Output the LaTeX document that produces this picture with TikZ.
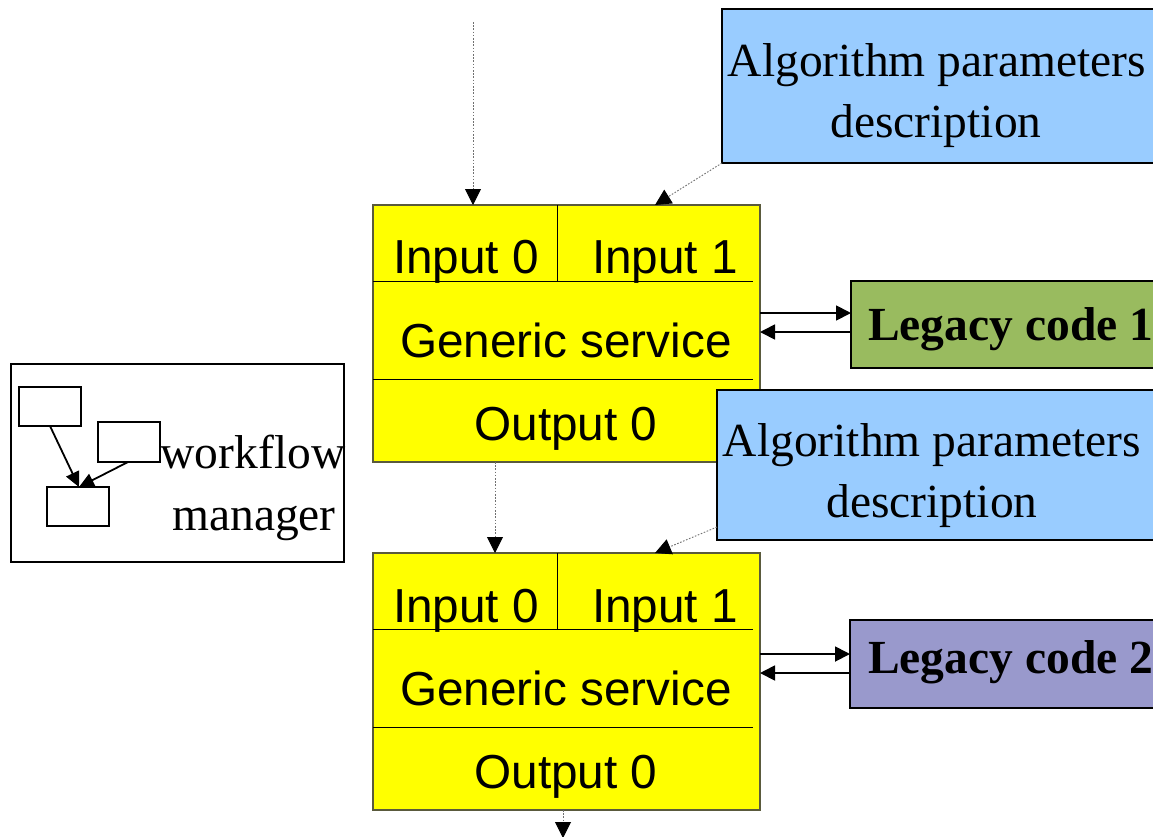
\documentclass[tikz,border=0pt]{standalone}
\usepackage{fontspec}
\setmainfont{Liberation Serif}
\newfontfamily\arialfont{Liberation Sans}
\usetikzlibrary{arrows.meta,calc}

\definecolor{svcyellow}{HTML}{FFFF00}
\definecolor{svcborder}{HTML}{5A5A3C}
\definecolor{paramblue}{HTML}{99CCFF}
\definecolor{legacygreen}{HTML}{99BB5F}
\definecolor{legacypurple}{HTML}{9999CC}
\definecolor{flowgray}{HTML}{707070}

\tikzset{
  svcbox/.style={draw=svcborder, line width=1.3pt, fill=svcyellow, outer sep=0pt,
    minimum width=387pt, minimum height=257pt, anchor=north west, inner sep=0pt},
  parambox/.style={draw=black, line width=2pt, fill=paramblue, outer sep=0pt,
    anchor=north west, inner sep=0pt},
  legacybox/.style={draw=black, line width=2pt, outer sep=0pt,
    anchor=north west, inner sep=0pt, minimum width=330pt, minimum height=87pt},
  wfbox/.style={draw=black, line width=1.8pt, fill=white, outer sep=0pt,
    anchor=north west, inner sep=0pt},
  sanslabel/.style={font=\arialfont\fontsize{47.7}{57}\selectfont, anchor=base, inner sep=0pt},
  seriflabel/.style={font=\fontsize{47.5}{57}\selectfont, anchor=base, inner sep=0pt},
  boldlabel/.style={font=\bfseries\fontsize{47.5}{57}\selectfont, anchor=base west, inner sep=0pt},
  divider/.style={draw=black, line width=1pt},
  dataflow/.style={draw=flowgray, line width=0.9pt, dash pattern=on 1.6pt off 1.6pt,
    -{Triangle[length=16pt,width=16pt,fill=black,color=black]}},
  callflow/.style={draw=black, line width=1.8pt, -{Triangle[length=15pt,width=15pt]}},
  wfarrow/.style={draw=black, line width=1.8pt, -{Triangle[length=15pt,width=14pt]}}
}

\begin{document}
\begin{tikzpicture}[x=1pt, y=-1pt]
  \clip (0,0) rectangle (1153,836);
  \fill[white] (0,0) rectangle (1153,836);

  % ---- workflow manager ----
  \node[wfbox, minimum width=333pt, minimum height=198pt] (wf) at (11,364) {};
  \node[wfbox, minimum width=62pt, minimum height=39pt] (wa) at (19,387) {};
  \node[wfbox, minimum width=62pt, minimum height=40pt] (wb) at (98,422) {};
  \node[wfbox, minimum width=62pt, minimum height=39pt] (wc) at (47,487) {};
  \draw[wfarrow] ([xshift=31pt]wa.south west) -- ([xshift=32pt]wc.north west);
  \draw[wfarrow] ([xshift=30pt]wb.south west) -- ([xshift=32pt]wc.north west);
  \node[seriflabel] (wft) at (253,468) {workflow};
  \node[seriflabel] (wfm) at (254,530) {manager};

  % ---- first parameter description ----
  \node[parambox, minimum width=440pt, minimum height=154pt] (b1) at (722,9) {};
  \node[seriflabel] (b1t) at (937,76) {Algorithm parameters};
  \node[seriflabel] (b1d) at (936,137) {description};

  % ---- generic service 1 ----
  \node[svcbox] (y1) at (373,205) {};
  \draw[divider] ([xshift=184pt]y1.north west) -- ++(0,76);
  \draw[divider] ([yshift=-76pt]y1.north west) -- ++(380,0);
  \draw[divider] ([yshift=-174pt]y1.north west) -- ++(380,0);
  \node[sanslabel] (y1i0) at (466,273) {Input 0};
  \node[sanslabel] (y1i1) at (665,273) {Input 1};
  \node[sanslabel] (y1g) at (566,357) {Generic service};
  \node[sanslabel] (y1o) at (566,440) {Output 0};

  % ---- second parameter description (overlaps service 1) ----
  \node[parambox, minimum width=444pt, minimum height=150pt] (b2) at (717,390) {};
  \node[seriflabel] (b2t) at (932,456) {Algorithm parameters};
  \node[seriflabel] (b2d) at (932,517) {description};

  % ---- generic service 2 ----
  \node[svcbox] (y2) at (373,553) {};
  \draw[divider] ([xshift=184pt]y2.north west) -- ++(0,76);
  \draw[divider] ([yshift=-76pt]y2.north west) -- ++(380,0);
  \draw[divider] ([yshift=-174pt]y2.north west) -- ++(380,0);
  \node[sanslabel] (y2i0) at (466,622) {Input 0};
  \node[sanslabel] (y2i1) at (665,622) {Input 1};
  \node[sanslabel] (y2g) at (566,705) {Generic service};
  \node[sanslabel] (y2o) at (566,788) {Output 0};

  % ---- legacy codes ----
  \node[legacybox, fill=legacygreen] (l1) at (851,281) {};
  \node[boldlabel] (l1t) at (868,340) {Legacy code 1};
  \node[legacybox, fill=legacypurple, minimum height=88pt] (l2) at (850,620) {};
  \node[boldlabel] (l2t) at (868,673) {Legacy code 2};

  % ---- calls to legacy code ----
  \draw[callflow] ([yshift=-108pt]y1.north east) -- ([yshift=-32pt]l1.north west);
  \draw[callflow] ([yshift=-51pt]l1.north west) -- ([yshift=-127pt]y1.north east);
  \draw[callflow] ([yshift=-101pt]y2.north east) -- ([yshift=-34pt]l2.north west);
  \draw[callflow] ([yshift=-53pt]l2.north west) -- ([yshift=-120pt]y2.north east);

  % ---- data flow ----
  \coordinate (src) at (473,22);
  \coordinate (sink) at (563,838);
  \draw[dataflow] (src) -- (src |- y1.north);
  \draw[dataflow] (b1.south west) -- ([xshift=282pt]y1.north west);
  \draw[dataflow] ([xshift=122pt]y1.south west) -- ([xshift=122pt]y2.north west);
  \draw[dataflow] ([yshift=13pt]b2.south west) -- ([xshift=282pt]y2.north west);
  \draw[dataflow] ([xshift=190pt]y2.south west) -- (sink);
\end{tikzpicture}
\end{document}
